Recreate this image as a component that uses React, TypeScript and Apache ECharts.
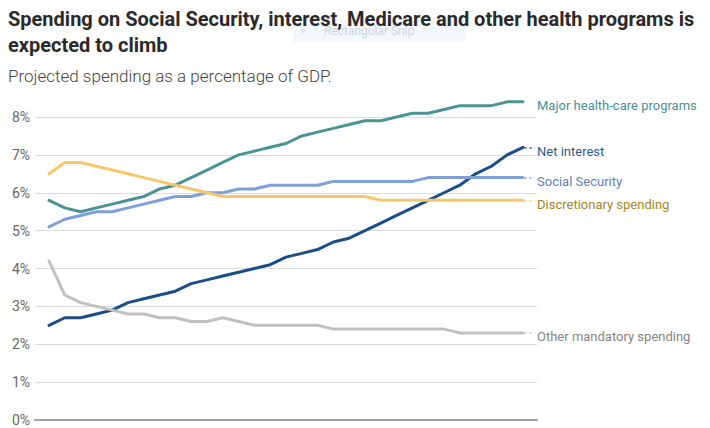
import React, { useEffect, useRef } from "react";
import * as echarts from "echarts";

const years: number[] = [];
for (let y = 2024; y <= 2054; y++) years.push(y);

const healthCare = [5.8, 5.6, 5.5, 5.6, 5.7, 5.8, 5.9, 6.1, 6.2, 6.4, 6.6, 6.8, 7.0, 7.1, 7.2, 7.3, 7.5, 7.6, 7.7, 7.8, 7.9, 7.9, 8.0, 8.1, 8.1, 8.2, 8.3, 8.3, 8.3, 8.4, 8.4];
const netInterest = [2.5, 2.7, 2.7, 2.8, 2.9, 3.1, 3.2, 3.3, 3.4, 3.6, 3.7, 3.8, 3.9, 4.0, 4.1, 4.3, 4.4, 4.5, 4.7, 4.8, 5.0, 5.2, 5.4, 5.6, 5.8, 6.0, 6.2, 6.5, 6.7, 7.0, 7.2];
const socialSecurity = [5.1, 5.3, 5.4, 5.5, 5.5, 5.6, 5.7, 5.8, 5.9, 5.9, 6.0, 6.0, 6.1, 6.1, 6.2, 6.2, 6.2, 6.2, 6.3, 6.3, 6.3, 6.3, 6.3, 6.3, 6.4, 6.4, 6.4, 6.4, 6.4, 6.4, 6.4];
const discretionary = [6.5, 6.8, 6.8, 6.7, 6.6, 6.5, 6.4, 6.3, 6.2, 6.1, 6.0, 5.9, 5.9, 5.9, 5.9, 5.9, 5.9, 5.9, 5.9, 5.9, 5.9, 5.8, 5.8, 5.8, 5.8, 5.8, 5.8, 5.8, 5.8, 5.8, 5.8];
const otherMandatory = [4.2, 3.3, 3.1, 3.0, 2.9, 2.8, 2.8, 2.7, 2.7, 2.6, 2.6, 2.7, 2.6, 2.5, 2.5, 2.5, 2.5, 2.5, 2.4, 2.4, 2.4, 2.4, 2.4, 2.4, 2.4, 2.4, 2.3, 2.3, 2.3, 2.3, 2.3];

const yTicks = [0, 1, 2, 3, 4, 5, 6, 7, 8];

const seriesDefs = [
  { name: "Major health-care programs", data: healthCare, color: "#4b9395", labelColor: "#4a9094" },
  { name: "Net interest", data: netInterest, color: "#1b4e87", labelColor: "#2d5b93" },
  { name: "Social Security", data: socialSecurity, color: "#7e9fd8", labelColor: "#5f7fb8" },
  { name: "Discretionary spending", data: discretionary, color: "#f6c86c", labelColor: "#a48629" },
  { name: "Other mandatory spending", data: otherMandatory, color: "#c0c0c0", labelColor: "#858585" },
];

const FONT = "Roboto, 'Liberation Sans', sans-serif";

export default function App() {
  const ref = useRef<HTMLDivElement>(null);
  useEffect(() => {
    if (!ref.current) return;
    const chart = echarts.init(ref.current, undefined, { renderer: "svg" });
    const lastYear = years[years.length - 1];
    const series = seriesDefs.map((s) => ({
      name: s.name,
      type: "line",
      data: years.map((y, i) => [y, s.data[i]]),
      showSymbol: false,
      symbol: "none",
      clip: false,
      lineStyle: { color: s.color, width: 3, join: "round", cap: "round" },
      itemStyle: { color: s.color },
      z: 3,
      endLabel: {
        show: true,
        formatter: s.name,
        color: s.labelColor,
        fontSize: 13,
        fontFamily: FONT,
        distance: 14,
        offset: [0, 4],
      },
      markLine: {
        silent: true,
        symbol: "none",
        animation: false,
        lineStyle: { color: s.color, type: [2, 3], width: 1.5 },
        label: { show: false },
        data: [
          [
            { coord: [lastYear + 0.1, s.data[s.data.length - 1]] },
            { coord: [lastYear + 0.75, s.data[s.data.length - 1]] },
          ],
        ],
      },
    }));

    chart.setOption({
      animation: false,
      backgroundColor: "#ffffff",
      title: [
        {
          text: "Spending on Social Security, interest, Medicare and other health programs is\nexpected to climb",
          left: 8,
          top: 6,
          padding: 0,
          z: 10,
          textStyle: {
            fontFamily: FONT,
            fontWeight: "bold",
            fontSize: 20,
            lineHeight: 26,
            color: "#2a2a2a",
          },
        },
        {
          text: "Projected spending as a percentage of GDP.",
          left: 8,
          top: 65,
          padding: 0,
          textStyle: {
            fontFamily: FONT,
            fontWeight: 300,
            fontSize: 17,
            lineHeight: 22,
            color: "#444",
          },
        },
      ],
      graphic: [
        {
          type: "rect",
          shape: { x: 293, y: 19, width: 173, height: 23 },
          style: { fill: "#f3f8fd" },
          z: 0,
          silent: true,
        },
        {
          type: "circle",
          shape: { cx: 303, cy: 31, r: 2.5 },
          style: { fill: "#e4e8ee" },
          z: 0,
          silent: true,
        },
        {
          type: "text",
          x: 324,
          y: 31,
          style: {
            text: "Rectangular Snip",
            fill: "#cfd5de",
            font: "12px " + FONT,
            verticalAlign: "middle",
          },
          z: 0,
          silent: true,
        },
      ],
      grid: { left: 35, right: 173, top: 117, bottom: 8 },
      xAxis: {
        type: "value",
        min: 2024 - 14 / 15.8,
        max: 2054 + 14 / 15.8,
        axisLine: { show: true, lineStyle: { color: "#a0a0a0", width: 2 } },
        axisTick: { show: false },
        axisLabel: { show: false },
        splitLine: { show: false },
      },
      yAxis: {
        type: "value",
        min: yTicks[0],
        max: yTicks[yTicks.length - 1],
        interval: 1,
        axisLine: { show: false },
        axisTick: { show: false },
        axisLabel: {
          formatter: (v: number) => `${v}%`,
          color: "#666",
          fontSize: 14,
          fontFamily: FONT,
          margin: 5,
        },
        splitLine: { lineStyle: { color: "#dcdcdc", width: 1 } },
      },
      series,
    });
    return () => chart.dispose();
  }, []);
  return (
    <div
      ref={ref}
      style={{ position: "fixed", left: 0, top: 0, width: 710, height: 428 }}
    />
  );
}
